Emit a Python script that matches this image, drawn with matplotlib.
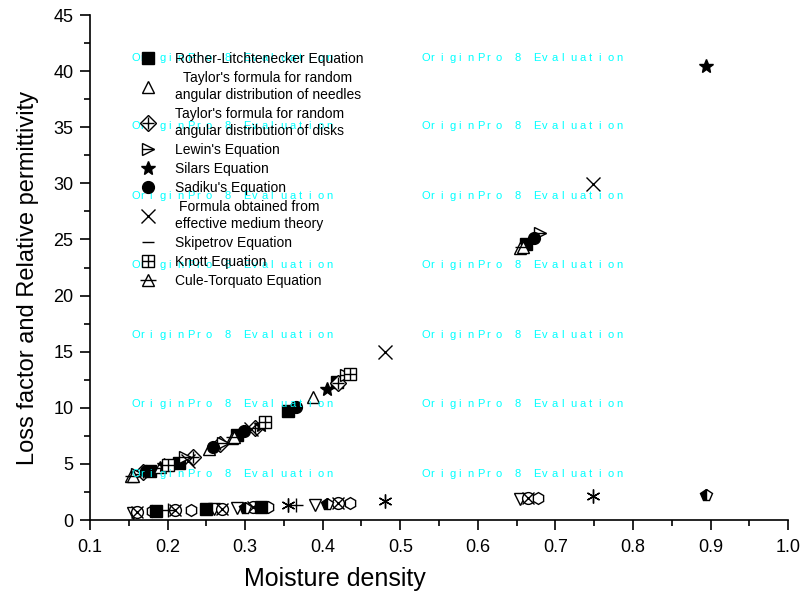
import matplotlib
matplotlib.use("Agg")
import matplotlib.pyplot as plt
from matplotlib.legend_handler import HandlerTuple
from matplotlib.ticker import MultipleLocator

plt.rcParams['font.family'] = ['Liberation Sans', 'DejaVu Sans']

# ---- data: relative permittivity (upper branch) ----
rother_x = [0.177, 0.215, 0.290, 0.355, 0.418, 0.662]
rother_y = [4.4, 5.1, 7.6, 9.7, 12.3, 24.6]
taylor_n_x = [0.153, 0.190, 0.253, 0.283, 0.388, 0.654]
taylor_n_y = [3.9, 4.7, 6.3, 7.3, 11.0, 24.2]
taylor_d_x = [0.168, 0.233, 0.268, 0.313, 0.420]
taylor_d_y = [4.3, 5.6, 6.8, 8.2, 12.2]
lewin_x = [0.160, 0.222, 0.272, 0.430, 0.680]
lewin_y = [4.1, 5.6, 6.9, 12.9, 25.6]
silars_x = [0.195, 0.320, 0.405, 0.894]
silars_y = [4.9, 8.5, 11.7, 40.5]
sadiku_x = [0.172, 0.258, 0.298, 0.365, 0.672]
sadiku_y = [4.4, 6.5, 7.9, 10.1, 25.1]
emt_x = [0.226, 0.308, 0.480, 0.748]
emt_y = [5.3, 8.1, 15.0, 29.9]
skip_x = [0.185, 0.325]
skip_y = [4.6, 8.7]
knott_x = [0.200, 0.325, 0.435]
knott_y = [4.9, 8.7, 13.0]
cule_x = [0.155, 0.286, 0.658]
cule_y = [3.9, 7.4, 24.3]

# ---- data: loss factor (lower branch) ----
lf_v_x = [0.155, 0.260, 0.290, 0.390, 0.655]
lf_v_y = [0.6, 1.0, 1.1, 1.3, 1.9]
lf_cx_x = [0.160, 0.210, 0.270, 0.310, 0.420, 0.665]
lf_cx_y = [0.7, 0.9, 1.0, 1.2, 1.5, 2.0]
lf_h_x = [0.180, 0.230, 0.330, 0.435, 0.678]
lf_h_y = [0.8, 0.9, 1.2, 1.5, 2.0]
lf_ast_x = [0.355, 0.480, 0.748]
lf_ast_y = [1.3, 1.7, 2.1]
lf_p_x = [0.300, 0.405, 0.894]
lf_p_y = [1.1, 1.4, 2.2]
lf_plus_x = [0.365, 0.200]
lf_plus_y = [1.3, 0.9]
lf_sq_x = [0.185, 0.250, 0.320]
lf_sq_y = [0.8, 1.0, 1.2]

labels = ["Rother-Litchtenecker Equation",
          "Taylor's formula for random\nangular distribution of needles",
          "Taylor's formula for random\nangular distribution of disks",
          "Lewin's Equation",
          "Silars Equation",
          "Sadiku's Equation",
          "Formula obtained from\neffective medium theory",
          "Skipetrov Equation",
          "Knott Equation",
          "Cule-Torquato Equation"]

watermark = "OriginPro 8 Evaluation"
wm_rows = [41.2, 35.1, 28.9, 22.7, 16.5, 10.3, 4.1]
wm_cols = [0.153, 0.527]

fig = plt.figure(figsize=(8.05, 5.93), dpi=100)
ax = fig.add_axes([0.1118, 0.1231, 0.8672, 0.8516])

ms = 8.5
k = dict(linestyle='none', color='black', markersize=ms, markeredgewidth=1.0)
op = dict(markerfacecolor='white')

h1, = ax.plot(rother_x, rother_y, marker='s', **k)
h2, = ax.plot(taylor_n_x, taylor_n_y, marker='^', **k, **op)
h3a, = ax.plot(taylor_d_x, taylor_d_y, marker='D', **k, **op)
h3b, = ax.plot(taylor_d_x, taylor_d_y, marker='+', **k)
h4a, = ax.plot(lewin_x, lewin_y, marker='>', **k, **op)
h4b, = ax.plot(lewin_x, lewin_y, marker='_', **k)
h5, = ax.plot(silars_x, silars_y, marker='*', linestyle='none', color='black', markersize=10.5)
h6, = ax.plot(sadiku_x, sadiku_y, marker='o', **k)
h7, = ax.plot(emt_x, emt_y, marker='x', linestyle='none', color='black', markersize=10, markeredgewidth=1.0)
h8, = ax.plot(skip_x, skip_y, marker='_', **k)
h9a, = ax.plot(knott_x, knott_y, marker='s', **k, **op)
h9b, = ax.plot(knott_x, knott_y, marker='+', **k)
h10a, = ax.plot(cule_x, cule_y, marker='^', **k, **op)
h10b, = ax.plot(cule_x, cule_y, marker='_', linestyle='none', color='black', markersize=11, markeredgewidth=1.0)

ax.plot(lf_v_x, lf_v_y, marker='v', **k, **op)
ax.plot(lf_cx_x, lf_cx_y, marker='o', **k, **op)
ax.plot(lf_cx_x, lf_cx_y, marker='x', **k)
ax.plot(lf_h_x, lf_h_y, marker='h', **k, **op)
ax.plot(lf_ast_x, lf_ast_y, marker=(6, 2, 0), linestyle='none', color='black', markersize=10, markeredgewidth=1.0)
ax.plot(lf_p_x, lf_p_y, marker='p', fillstyle='left', markerfacecoloralt='white', linestyle='none',
        color='black', markersize=ms, markeredgewidth=1.0)
ax.plot(lf_plus_x, lf_plus_y, marker='+', linestyle='none', color='black', markersize=10, markeredgewidth=1.0)
ax.plot(lf_sq_x, lf_sq_y, marker='s', **k)

handles = [h1, h2, (h3a, h3b), (h4a, h4b), h5, h6, h7, h8, (h9a, h9b), (h10a, h10b)]
leg = ax.legend(handles, labels, loc='upper left', bbox_to_anchor=(0.073, 0.927),
                frameon=False, fontsize=10, numpoints=1, handlelength=1.0,
                handletextpad=1.45, labelspacing=0.35, borderaxespad=0.0, borderpad=0.0,
                handler_map={tuple: HandlerTuple(ndivide=1)})
for t in leg.get_texts():
    t.set_multialignment('center')
    t.set_linespacing(1.3)

# watermark text, letter-spaced (pitch ~9.3 px = 6.7 pt)
pitch = 6.7
for yy in wm_rows:
    for xx in wm_cols:
        for i, ch in enumerate(watermark):
            if ch == ' ':
                continue
            ax.annotate(ch, xy=(xx, yy), xycoords='data', xytext=(i * pitch, 0),
                        textcoords='offset points', color='#00FFFF', fontsize=8,
                        va='center', ha='left', zorder=5)

ax.set_xlim(0.1, 1.0)
ax.set_ylim(0, 45)
ax.xaxis.set_major_locator(MultipleLocator(0.1))
ax.xaxis.set_minor_locator(MultipleLocator(0.05))
ax.yaxis.set_major_locator(MultipleLocator(5))
ax.yaxis.set_minor_locator(MultipleLocator(2.5))
ax.set_xticklabels([f"{v:.1f}" for v in ax.get_xticks()])
ax.tick_params(which='major', direction='out', length=7, width=1.2, labelsize=13, pad=5)
ax.tick_params(axis='x', which='major', pad=7)
ax.tick_params(which='minor', direction='out', length=4, width=1.2)
for s in ['top', 'right']:
    ax.spines[s].set_visible(False)
for s in ['left', 'bottom']:
    ax.spines[s].set_linewidth(1.2)

ax.set_xlabel("Moisture density", fontsize=18)
ax.set_ylabel("Loss factor and Relative permittivity", fontsize=17)
ax.xaxis.set_label_coords(0.351, -0.093)
ax.yaxis.set_label_coords(-0.073, 0.48)

fig.savefig("out.png", dpi=100)
